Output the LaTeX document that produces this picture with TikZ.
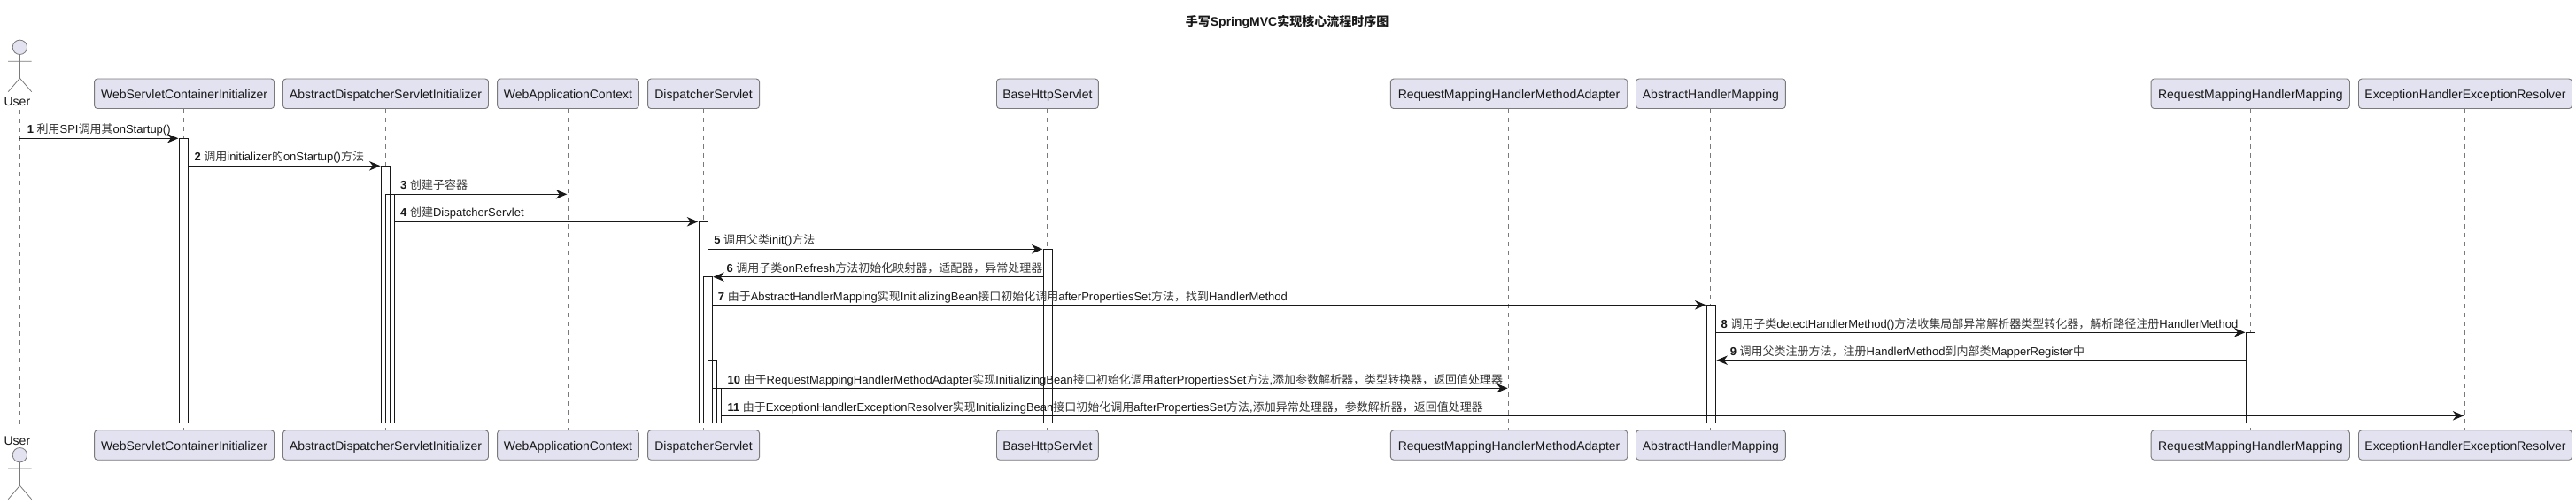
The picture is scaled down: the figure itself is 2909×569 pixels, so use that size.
\documentclass[tikz,border=0pt]{standalone}
\usepackage{fontspec}
\usetikzlibrary{arrows.meta}
\setmainfont{Liberation Sans}
\newfontfamily\cjkfont{Noto Sans CJK SC}
\newcommand{\zh}[1]{{\cjkfont\color{cjkgray}#1}}
\definecolor{cjkgray}{HTML}{383838}
\definecolor{boxfill}{HTML}{E2E2F0}
\definecolor{boxline}{HTML}{7A7A7A}
\definecolor{ink}{HTML}{181818}
\tikzset{
  x=1pt,y=-1pt,
  partbox/.style={draw=boxline,line width=0.9pt,fill=boxfill,rounded corners=3.5pt,inner sep=0pt,minimum height=33.5pt,text height=12pt,text depth=1pt,font=\fontsize{14pt}{16pt}\selectfont,text=ink},
  lifeline/.style={draw=boxline,line width=0.8pt,dash pattern=on 5pt off 5pt},
  actbar/.style={inner sep=0pt,outer sep=0pt,anchor=north west,minimum width=10pt},
  baredge/.style={draw=ink,line width=0.8pt},
  msgline/.style={draw=ink,line width=1pt,-{Stealth[length=12.5pt,width=10.5pt,inset=4pt]},shorten >=1pt},
  msgtext/.style={anchor=base west,inner sep=0pt,font=\fontsize{13pt}{15pt}\selectfont,text=ink},
  actorline/.style={draw=boxline,line width=0.8pt},
  actorlabel/.style={anchor=base,inner sep=0pt,font=\fontsize{14pt}{16pt}\selectfont,text=ink},
}
\newcommand{\barfill}[2]{\fill[white] (#1,#2) rectangle (#1+10,478);}
\newcommand{\barnode}[3]{\node[actbar,minimum height={478pt-#3pt}] (#1) at (#2,#3) {};
  \draw[baredge] (#1.south west) -- (#1.north west) -- (#1.north east) -- (#1.south east);}
\begin{document}
\begin{tikzpicture}
\useasboundingbox (0,0) rectangle (2909,569);
\fill[white] (0,0) rectangle (2909,569);
\node[anchor=center,inner sep=0pt,font=\fontsize{14pt}{16pt}\selectfont\bfseries,text=ink] (title) at (1453.6,25) {{\cjkfont 手写}SpringMVC{\cjkfont 实现核心流程时序图}};
% top boxes
\node[partbox,minimum width=203pt] (wsci) at (208.1,105.8) {WebServletContainerInitializer};
\node[partbox,minimum width=232pt] (adsi) at (435.5,105.8) {AbstractDispatcherServletInitializer};
\node[partbox,minimum width=159.7pt] (wac) at (641.5,105.8) {WebApplicationContext};
\node[partbox,minimum width=126pt] (ds) at (794.6,105.8) {DispatcherServlet};
\node[partbox,minimum width=114.8pt] (bhs) at (1182.9,105.8) {BaseHttpServlet};
\node[partbox,minimum width=267.4pt] (rma) at (1704.1,105.8) {RequestMappingHandlerMethodAdapter};
\node[partbox,minimum width=168.9pt] (ahm) at (1931.9,105.8) {AbstractHandlerMapping};
\node[partbox,minimum width=224.3pt] (rhm) at (2541.3,105.8) {RequestMappingHandlerMapping};
\node[partbox,minimum width=241pt] (eer) at (2784,105.8) {ExceptionHandlerExceptionResolver};
% bottom boxes
\node[partbox,minimum width=203pt] (wsciB) at (208.1,502.5) {WebServletContainerInitializer};
\node[partbox,minimum width=232pt] (adsiB) at (435.5,502.5) {AbstractDispatcherServletInitializer};
\node[partbox,minimum width=159.7pt] (wacB) at (641.5,502.5) {WebApplicationContext};
\node[partbox,minimum width=126pt] (dsB) at (794.6,502.5) {DispatcherServlet};
\node[partbox,minimum width=114.8pt] (bhsB) at (1182.9,502.5) {BaseHttpServlet};
\node[partbox,minimum width=267.4pt] (rmaB) at (1704.1,502.5) {RequestMappingHandlerMethodAdapter};
\node[partbox,minimum width=168.9pt] (ahmB) at (1931.9,502.5) {AbstractHandlerMapping};
\node[partbox,minimum width=224.3pt] (rhmB) at (2541.3,502.5) {RequestMappingHandlerMapping};
\node[partbox,minimum width=241pt] (eerB) at (2784,502.5) {ExceptionHandlerExceptionResolver};
% actors
\node[actorlabel] (userT) at (19.4,120) {User};
\node[actorlabel] (userB) at (19.4,502) {User};
\coordinate (userTop) at (22.4,124);
\coordinate (userBot) at (22.4,481);
\draw[actorline,fill=boxfill] (22.4,53.3) circle[radius=8.2];
\draw[actorline] (22.4,61.5) -- (22.4,88.3) (9.2,69.3) -- (35.7,69.3) (9.2,103.7) -- (22.4,88.3) -- (35.7,103.7);
\draw[actorline,fill=boxfill] (22.4,513.7) circle[radius=8.2];
\draw[actorline] (22.4,521.9) -- (22.4,548.3) (9.2,529) -- (35.7,529) (9.2,563.7) -- (22.4,548.3) -- (35.7,563.7);
% lifelines
\draw[lifeline] (userTop) -- (userBot);
\foreach \a/\b/\c in {wsci/wsciB/207.7,adsi/adsiB/435.7,wac/wacB/641.3,ds/dsB/794.4,bhs/bhsB/1182.7,rma/rmaB/1703.6,ahm/ahmB/1931.6,rhm/rhmB/2541.4,eer/eerB/2783.3}
  \draw[lifeline] (\a.south -| \c,0) -- (\b.north -| \c,0);
% activation bars: white first, then all outlines
\barfill{202.4}{156.3}
\barfill{430.5}{187.3}
\barfill{435.5}{219.3}
\barfill{789.3}{250.3}
\barfill{794.3}{312.7}
\barfill{799.3}{406.3}
\barfill{804.3}{438.3}
\barfill{1178.4}{281.3}
\barfill{1927.4}{344.3}
\barfill{2536.4}{375.3}
\barnode{aW}{202.4}{156.3}
\barnode{aA}{430.5}{187.3}
\barnode{aB}{435.5}{219.3}
\barnode{aD}{789.3}{250.3}
\barnode{aE}{794.3}{312.7}
\barnode{aF}{799.3}{406.3}
\barnode{aG}{804.3}{438.3}
\barnode{aH}{1178.4}{281.3}
\barnode{aM}{1927.4}{344.3}
\barnode{aR}{2536.4}{375.3}
% message levels
\coordinate (y1) at (0,156.3);
\coordinate (y2) at (0,187.3);
\coordinate (y3) at (0,219.3);
\coordinate (y4) at (0,250.3);
\coordinate (y5) at (0,281.3);
\coordinate (y6) at (0,312.7);
\coordinate (y7) at (0,344.3);
\coordinate (y8) at (0,375.3);
\coordinate (y9) at (0,406.7);
\coordinate (y10) at (0,438.3);
\coordinate (y11) at (0,469.3);
\coordinate (lWac) at (641.3,0);
\coordinate (lRma) at (1703.6,0);
\coordinate (lEer) at (2783.3,0);
% messages
\draw[msgline] (userTop |- y1) -- (aW.west |- y1);
\draw[msgline] (aW.east |- y2) -- (aA.west |- y2);
\draw[msgline] (aB.east |- y3) -- (lWac |- y3);
\draw[msgline] (aB.east |- y4) -- (aD.west |- y4);
\draw[msgline] (aD.east |- y5) -- (aH.west |- y5);
\draw[msgline] (aH.west |- y6) -- (aE.east |- y6);
\draw[msgline] (aE.east |- y7) -- (aM.west |- y7);
\draw[msgline] (aM.east |- y8) -- (aR.west |- y8);
\draw[msgline] (aR.west |- y9) -- (aM.east |- y9);
\draw[msgline] (aG.east |- y10) -- (lRma |- y10);
\draw[msgline] (aG.east |- y11) -- (lEer |- y11);
% labels
\node[msgtext] (t1) at (30.6,151) {\textbf{1} \zh{利用}SPI\zh{调用其}onStartup()};
\node[msgtext] (t2) at (219.4,182) {\textbf{2} \zh{调用}initializer\zh{的}onStartup()\zh{方法}};
\node[msgtext] (t3) at (452,214) {\textbf{3} \zh{创建子容器}};
\node[msgtext] (t4) at (452,245) {\textbf{4} \zh{创建}DispatcherServlet};
\node[msgtext] (t5) at (806.1,276) {\textbf{5} \zh{调用父类}init()\zh{方法}};
\node[msgtext] (t6) at (820.4,307.4) {\textbf{6} \zh{调用子类}onRefresh\zh{方法初始化映射器，适配器，异常处理器}};
\node[msgtext] (t7) at (810.7,339) {\textbf{7} \zh{由于}AbstractHandlerMapping\zh{实现}InitializingBean\zh{接口初始化调用}afterPropertiesSet\zh{方法，找到}HandlerMethod};
\node[msgtext] (t8) at (1943.4,370) {\textbf{8} \zh{调用子类}detectHandlerMethod()\zh{方法收集局部异常解析器类型转化器，解析路径注册}HandlerMethod};
\node[msgtext] (t9) at (1953.6,401.4) {\textbf{9} \zh{调用父类注册方法，注册}HandlerMethod\zh{到内部类}MapperRegister\zh{中}};
\node[msgtext] (t10) at (821.4,433) {\textbf{10} \zh{由于}RequestMappingHandlerMethodAdapter\zh{实现}InitializingBean\zh{接口初始化调用}afterPropertiesSet\zh{方法}{,}\zh{添加参数解析器，类型转换器，返回值处理器}};
\node[msgtext] (t11) at (821.4,464) {\textbf{11} \zh{由于}ExceptionHandlerExceptionResolver\zh{实现}InitializingBean\zh{接口初始化调用}afterPropertiesSet\zh{方法}{,}\zh{添加异常处理器，参数解析器，返回值处理器}};
\end{tikzpicture}
\end{document}
